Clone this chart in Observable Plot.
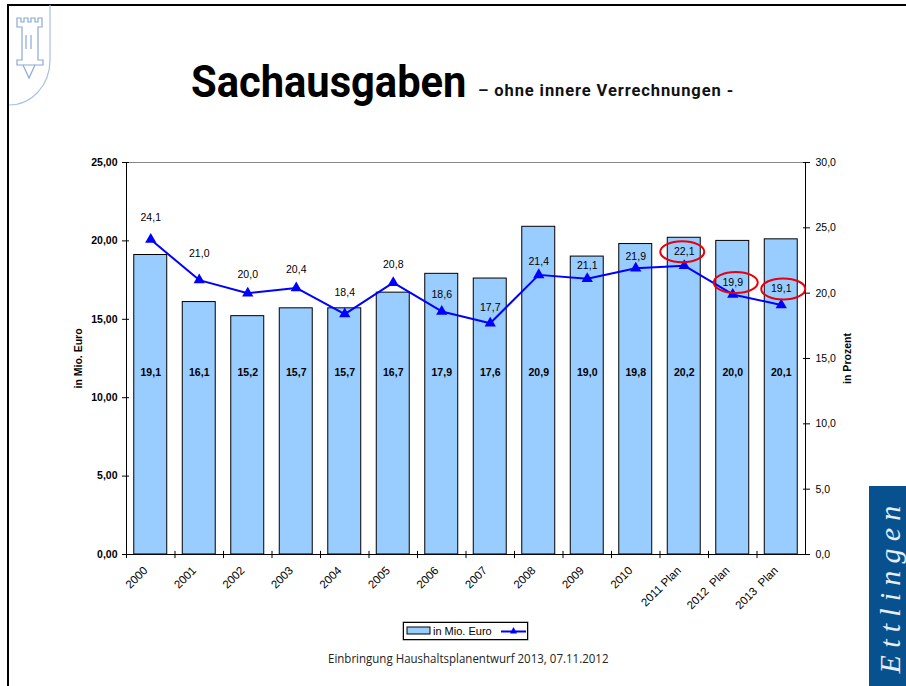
<!DOCTYPE html>
<html><head><meta charset="utf-8">
<script src="https://cdn.jsdelivr.net/npm/d3@7"></script>
<script src="https://cdn.jsdelivr.net/npm/@observablehq/plot@0.6"></script>
<style>
html,body{margin:0;padding:0;background:#fff}
#slide{position:relative;width:906px;height:686px;overflow:hidden;background:#fff}
#chart{position:absolute;left:0;top:0}
#chart svg{display:block;background:transparent;max-width:none}
#frame{position:absolute;left:7px;top:4px;width:899px;height:682px;border-left:2px solid #000;border-top:2px solid #000;box-sizing:border-box}
#title{position:absolute;left:191px;top:54px;white-space:nowrap;font-family:Roboto,sans-serif;font-weight:700;color:#000;font-size:44px;line-height:56px;transform-origin:0 0;transform:scaleX(.947)}
#sub{position:absolute;left:478px;top:81px;white-space:nowrap;font-family:Roboto,sans-serif;font-weight:700;color:#111;font-size:16.5px;line-height:20px;letter-spacing:.9px}
#foot{position:absolute;left:328px;top:650px;white-space:nowrap;font-family:"Open Sans",sans-serif;font-size:13px;line-height:16px;color:#222;transform-origin:0 0;transform:scaleX(.885)}
#legend{position:absolute;left:403px;top:622px;width:125px;height:18px;box-sizing:border-box;border:1px solid #000;box-shadow:0 0 0 .5px #777;font:11px "Liberation Sans",Arial,sans-serif;color:#000}
#legend svg{position:absolute;left:0;top:0}
#legend span{position:absolute;left:29px;top:2px;line-height:13px;white-space:nowrap}
#brand{position:absolute;left:869px;top:486px;width:37px;height:200px;background:#08518f}
#brand span{position:absolute;left:calc(50% + 2px);top:50%;transform:translate(-50%,-50%) rotate(-90deg);white-space:nowrap;font:italic 30px "Liberation Serif",serif;letter-spacing:7.2px;color:#e8eef5}
#logo{position:absolute;left:0;top:0}
</style></head>
<body>
<div id="slide">
<div id="frame"></div>
<svg id="logo" width="60" height="110" fill="none" stroke="#8ba8d6" stroke-width="1.2">
<path d="M50 5V60C50 85 32 105 9 105" stroke="#a9c0e2"/>
<path d="M17 18h4v4h3v-4h4v4h3v-4h4v4h3v-4h4v9h-4v33h5v5H17v-5h5V27h-5z"/>
<path d="M26 35v14M31 35v14M23 65l6 13 6-13"/>
</svg>
<div id="chart"></div>
<div id="title">Sachausgaben</div>
<div id="sub">– ohne innere Verrechnungen -</div>
<div id="legend">
<svg width="125" height="18">
<rect x="3" y="4" width="23" height="7" fill="#99ccff" stroke="#000"/>
<path d="M97 8.5H122" stroke="#0000ff" stroke-width="2"/>
<path d="M109.500 4L113 10.500H106z" fill="#0000ff"/>
</svg>
<span>in Mio. Euro</span>
</div>
<div id="foot">Einbringung Haushaltsplanentwurf 2013, 07.11.2012</div>
<div id="brand"><span>Ettlingen</span></div>
</div>
<script>
const categories = ["2000","2001","2002","2003","2004","2005","2006","2007","2008","2009","2010","2011 Plan","2012  Plan","2013  Plan"];
const euroValues = [19.1,16.1,15.2,15.7,15.7,16.7,17.9,17.6,20.9,19.0,19.8,20.2,20.0,20.1];
const percentValues = [24.1,21.0,20.0,20.4,18.4,20.8,18.6,17.7,21.4,21.1,21.9,22.1,19.9,19.1];
const euroTicks = [0,5,10,15,20,25];
const percentTicks = [0,5,10,15,20,25,30];
const circledCategories = ["2011 Plan","2012  Plan","2013  Plan"];
const percentLabelRaise = [22,26,19,18,21,18,17,16,13,13,12,14,12,16];
const ringShift = [-2,3,2];

const toEuro = p => p * 25 / 30;
const comma = (v, n) => v.toFixed(n).replace(".", ",");
const rows = categories.map((c, i) => ({c, euro: euroValues[i], pct: percentValues[i], raise: percentLabelRaise[i]}));
const step = 679 / categories.length;
const font = {fontFamily: '"Liberation Sans", Arial, sans-serif'};
const ellipse = {draw(ctx) {
  const rx = 22, ry = 10.5, k = 0.5523;
  ctx.moveTo(rx, 0);
  ctx.bezierCurveTo(rx, k*ry, k*rx, ry, 0, ry);
  ctx.bezierCurveTo(-k*rx, ry, -rx, k*ry, -rx, 0);
  ctx.bezierCurveTo(-rx, -k*ry, -k*rx, -ry, 0, -ry);
  ctx.bezierCurveTo(k*rx, -ry, rx, -k*ry, rx, 0);
  ctx.closePath();
}};
const circled = rows.filter(d => circledCategories.includes(d.c));

const chart = Plot.plot({
  width: 906, height: 686,
  marginLeft: 126, marginRight: 101, marginTop: 162, marginBottom: 132,
  style: {background: "transparent", fontSize: "10.5px", ...font, color: "#000", overflow: "visible"},
  x: {type: "band", domain: categories, paddingInner: 0.32, paddingOuter: 0.16, align: 0.5, round: false, label: null},
  y: {domain: [0, 25], label: null},
  marks: [
    Plot.barY(rows, {x: "c", y: "euro", fill: "#99ccff", stroke: "#000", strokeWidth: 1}),
    Plot.ruleY([25], {stroke: "#888", strokeWidth: 1}),
    Plot.ruleY([0], {stroke: "#000", strokeWidth: 1}),
    Plot.frame({anchor: "left", stroke: "#000"}),
    Plot.frame({anchor: "right", stroke: "#000"}),
    // x ticks sit between categories
    Plot.ruleX(categories, {x: d => d, dx: -step/2, y1: 0.2, y2: -0.26, stroke: "#000"}),
    Plot.axisX({tickSize: 0, tickRotate: -45, tickPadding: 14, dx: -5, textAnchor: "end", fontSize: 11.5, label: null}),
    // left axis
    Plot.axisY({ticks: euroTicks, tickSize: 7, dx: 3, fill: "none", label: null}),
    Plot.axisY({ticks: euroTicks, tickSize: 0, tickPadding: 9, fontWeight: "bold", fontSize: 10.5, tickFormat: d => comma(d, 2), label: null}),
    // right axis (percent, drawn against the shared y scale)
    Plot.axisY({anchor: "right", ticks: percentTicks.map(toEuro), tickSize: 7, dx: -3, fill: "none", label: null}),
    Plot.axisY({anchor: "right", ticks: percentTicks.map(toEuro), tickSize: 0, tickPadding: 10, fontSize: 10.5, tickFormat: d => comma(d * 30 / 25, 1), label: null}),
    // line
    Plot.line(rows, {x: "c", y: d => toEuro(d.pct), stroke: "#0000ff", strokeWidth: 2}),
    Plot.dot(rows, {x: "c", y: d => toEuro(d.pct), symbol: "triangle", r: 4.2, fill: "#0000ff"}),
    // bar labels
    Plot.text(rows, {x: "c", y: () => 11.6, text: d => comma(d.euro, 1), fontWeight: "bold", fontSize: 10.5}),
    // percent labels
    ...rows.map(d => Plot.text([d], {x: "c", y: v => toEuro(v.pct), dy: -d.raise, text: v => comma(v.pct, 1), fontSize: 10.5})),
    // red rings
    ...circled.map((d, i) => Plot.dot([d], {x: "c", y: v => toEuro(v.pct), dx: ringShift[i], dy: -d.raise, symbol: ellipse, r: 5, stroke: "#e8000d", strokeWidth: 2, fill: "none"})),
    // axis titles
    Plot.text(["in Mio. Euro"], {frameAnchor: "left", textAnchor: "middle", dx: -48, rotate: -90, fontWeight: "bold", fontSize: 10.5}),
    Plot.text(["in Prozent"], {frameAnchor: "right", textAnchor: "middle", dx: 42, rotate: -90, fontWeight: "bold", fontSize: 10.5})
  ]
});
document.getElementById("chart").append(chart);
</script>
</body></html>
